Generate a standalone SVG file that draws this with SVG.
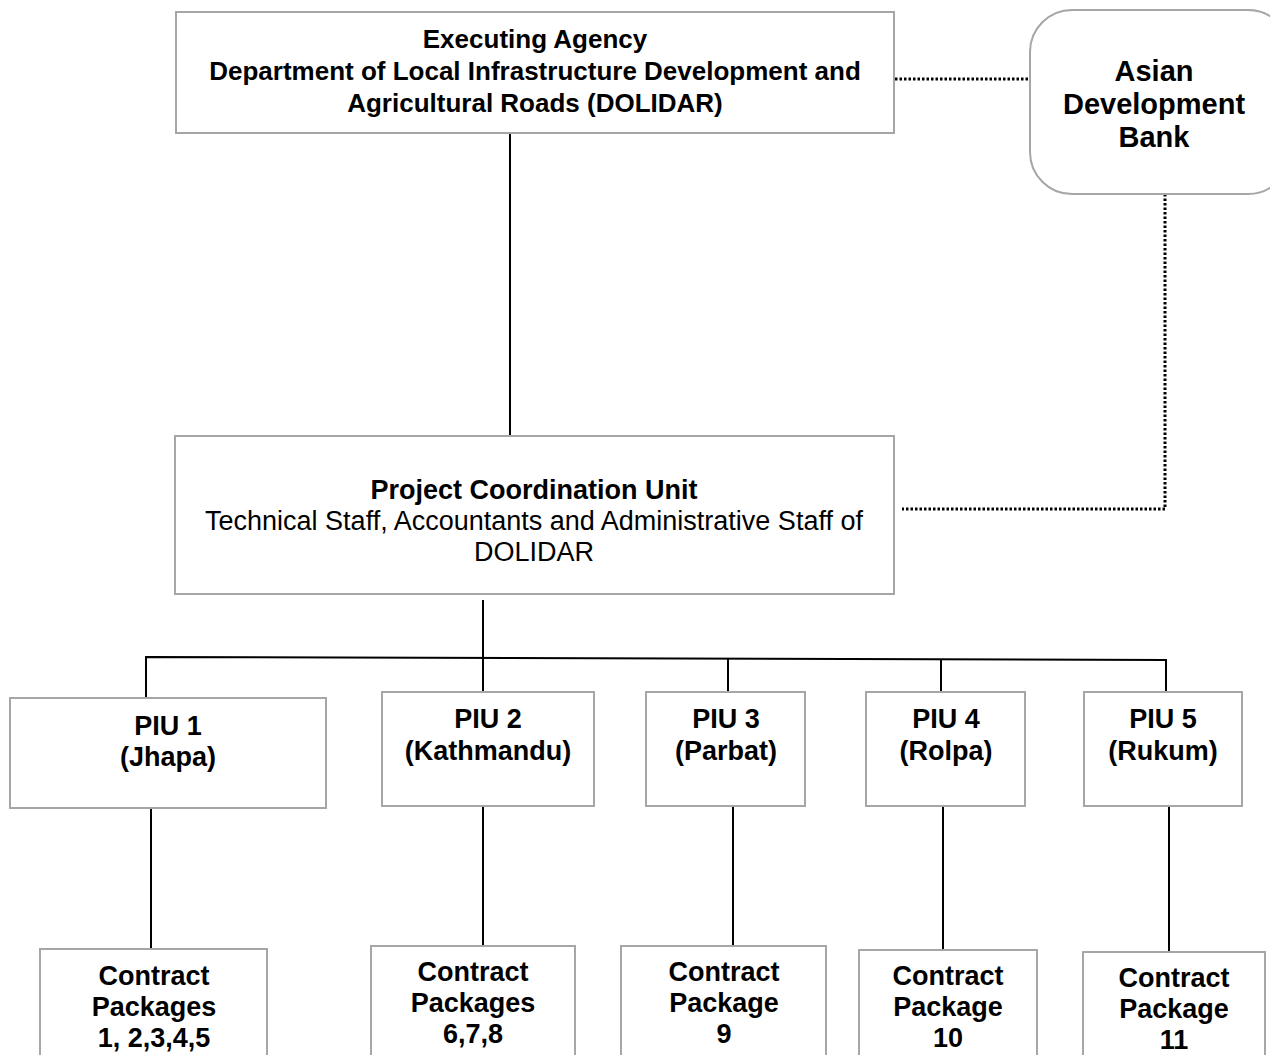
<svg xmlns="http://www.w3.org/2000/svg" width="1270" height="1055" viewBox="0 0 1270 1055">
<style>
.box{fill:#fff;stroke:#a6a6a6;stroke-width:2}
.t{font-family:"Liberation Sans",Arial,sans-serif;font-size:26px;fill:#000;text-anchor:middle}
.m{font-size:27px}
.b{font-weight:bold}
.ln{stroke:#000;stroke-width:2;fill:none}
.dot{stroke:#000;stroke-width:3;fill:none;stroke-dasharray:2.5 2}
</style>
<rect width="1270" height="1055" fill="#fff"/>
<g id="connectors">
<line class="ln" x1="510" y1="133" x2="510" y2="436"/>
<line class="dot" x1="895" y1="79" x2="1030" y2="79"/>
<polyline class="dot" points="1165,194 1165,509 902,509"/>
<line class="ln" x1="483" y1="600" x2="483" y2="692"/>
<polyline class="ln" points="146,698 146,657 1166,660 1166,692"/>
<line class="ln" x1="728" y1="658" x2="728" y2="692"/>
<line class="ln" x1="941" y1="659" x2="941" y2="692"/>
<line class="ln" x1="151" y1="808" x2="151" y2="949"/>
<line class="ln" x1="483" y1="806" x2="483" y2="946"/>
<line class="ln" x1="733" y1="806" x2="733" y2="946"/>
<line class="ln" x1="943" y1="806" x2="943" y2="950"/>
<line class="ln" x1="1169" y1="806" x2="1169" y2="952"/>
</g>
<g id="executing-agency">
<rect class="box" x="176" y="12" width="718" height="121"/>
<text class="t b" x="535" y="48">Executing Agency</text>
<text class="t b" x="535" y="80">Department of Local Infrastructure Development and</text>
<text class="t b" x="535" y="112">Agricultural Roads (DOLIDAR)</text>
</g>
<g id="adb">
<rect class="box" x="1030" y="10" width="260" height="184" rx="42" ry="42"/>
<text class="t b" x="1154" y="81" style="font-size:29px">Asian</text>
<text class="t b" x="1154" y="114" style="font-size:29px">Development</text>
<text class="t b" x="1154" y="147" style="font-size:29px">Bank</text>
</g>
<g id="pcu">
<rect class="box" x="175" y="436" width="719" height="158"/>
<text class="t m b" x="534" y="499">Project Coordination Unit</text>
<text class="t m" x="534" y="530">Technical Staff, Accountants and Administrative Staff of</text>
<text class="t m" x="534" y="561">DOLIDAR</text>
</g>
<g id="piu1">
<rect class="box" x="10" y="698" width="316" height="110"/>
<text class="t m b" x="168" y="735">PIU 1</text>
<text class="t m b" x="168" y="766">(Jhapa)</text>
</g>
<g id="piu2">
<rect class="box" x="382" y="692" width="212" height="114"/>
<text class="t m b" x="488" y="728">PIU 2</text>
<text class="t m b" x="488" y="760">(Kathmandu)</text>
</g>
<g id="piu3">
<rect class="box" x="646" y="692" width="159" height="114"/>
<text class="t m b" x="726" y="728">PIU 3</text>
<text class="t m b" x="726" y="760">(Parbat)</text>
</g>
<g id="piu4">
<rect class="box" x="866" y="692" width="159" height="114"/>
<text class="t m b" x="946" y="728">PIU 4</text>
<text class="t m b" x="946" y="760">(Rolpa)</text>
</g>
<g id="piu5">
<rect class="box" x="1084" y="692" width="158" height="114"/>
<text class="t m b" x="1163" y="728">PIU 5</text>
<text class="t m b" x="1163" y="760">(Rukum)</text>
</g>
<g id="cp1">
<rect class="box" x="40" y="949" width="227" height="130"/>
<text class="t m b" x="154" y="985">Contract</text>
<text class="t m b" x="154" y="1016">Packages</text>
<text class="t m b" x="154" y="1047">1, 2,3,4,5</text>
</g>
<g id="cp2">
<rect class="box" x="371" y="946" width="204" height="130"/>
<text class="t m b" x="473" y="981">Contract</text>
<text class="t m b" x="473" y="1012">Packages</text>
<text class="t m b" x="473" y="1043">6,7,8</text>
</g>
<g id="cp3">
<rect class="box" x="621" y="946" width="205" height="130"/>
<text class="t m b" x="724" y="981">Contract</text>
<text class="t m b" x="724" y="1012">Package</text>
<text class="t m b" x="724" y="1043">9</text>
</g>
<g id="cp4">
<rect class="box" x="859" y="950" width="178" height="130"/>
<text class="t m b" x="948" y="985">Contract</text>
<text class="t m b" x="948" y="1016">Package</text>
<text class="t m b" x="948" y="1047">10</text>
</g>
<g id="cp5">
<rect class="box" x="1083" y="952" width="182" height="130"/>
<text class="t m b" x="1174" y="987">Contract</text>
<text class="t m b" x="1174" y="1018">Package</text>
<text class="t m b" x="1174" y="1049">11</text>
</g>
</svg>
